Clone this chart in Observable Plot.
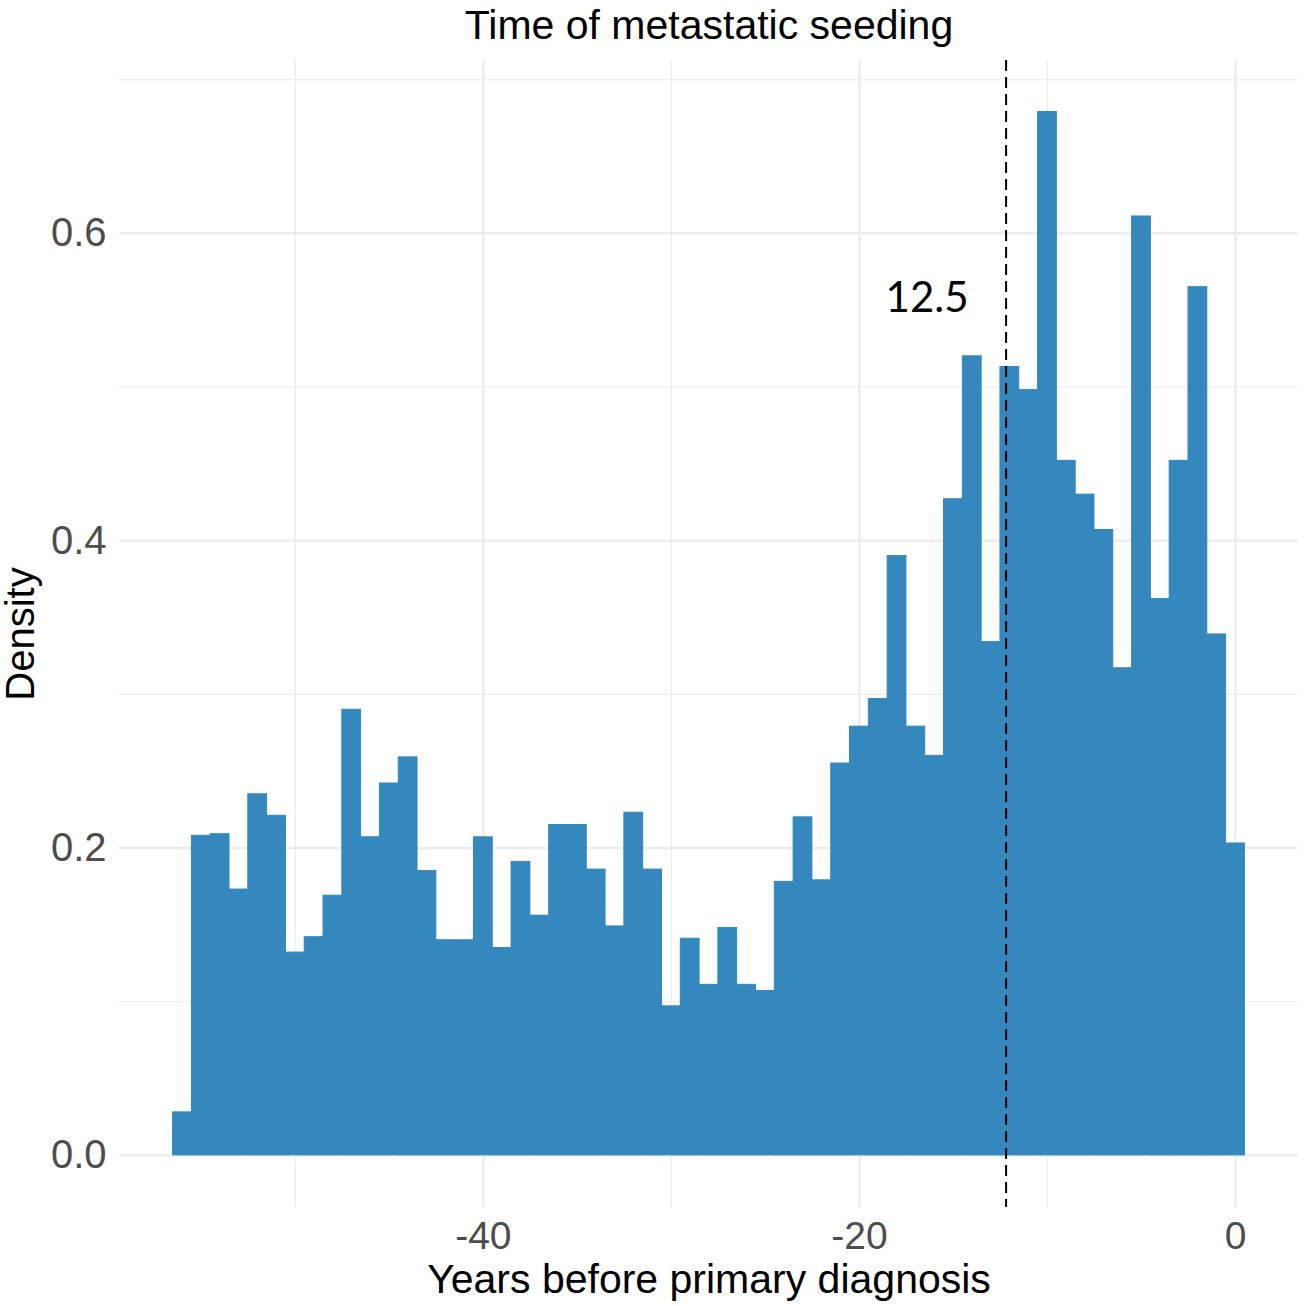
<!DOCTYPE html>
<html>
<head>
<meta charset="utf-8">
<script src="https://cdn.jsdelivr.net/npm/d3@7"></script>
<script src="https://cdn.jsdelivr.net/npm/@observablehq/plot@0.6"></script>
<style>
  html, body { margin: 0; padding: 0; background: #ffffff; }
  #chart svg { display: block; }
</style>
</head>
<body>
<div id="chart"></div>
<script>
// ---- data ----
const titleText = "Time of metastatic seeding";
const xTitle = "Years before primary diagnosis";
const yTitle = "Density";

// histogram bins: centre year of each 1-year bin
const binCenters = [
  -56, -55, -54, -53, -52, -51, -50, -49, -48, -47,
  -46, -45, -44, -43, -42, -41, -40, -39, -38, -37,
  -36, -35, -34, -33, -32, -31, -30, -29, -28, -27,
  -26, -25, -24, -23, -22, -21, -20, -19, -18, -17,
  -16, -15, -14, -13, -12, -11, -10, -9, -8, -7,
  -6, -5, -4, -3, -2, -1, 0
];
const density = [
  0.028, 0.208, 0.209, 0.173, 0.235, 0.221, 0.132, 0.142, 0.169, 0.290,
  0.207, 0.242, 0.259, 0.185, 0.140, 0.140, 0.207, 0.135, 0.191, 0.156,
  0.215, 0.215, 0.186, 0.149, 0.223, 0.186, 0.097, 0.141, 0.111, 0.148,
  0.111, 0.107, 0.178, 0.220, 0.179, 0.255, 0.279, 0.297, 0.390, 0.279,
  0.260, 0.427, 0.520, 0.334, 0.513, 0.498, 0.679, 0.452, 0.430, 0.407,
  0.317, 0.611, 0.362, 0.452, 0.565, 0.339, 0.203
];
const binWidth = 1;

const xMajorTicks = [-40, -20, 0];
const xMinorTicks = [-50, -30, -10];
const yMajorTicks = [0, 0.2, 0.4, 0.6];
const yMinorTicks = [0.1, 0.3, 0.5, 0.7];
const yTickLabels = ["0.0", "0.2", "0.4", "0.6"];

const medianLine = [-12.2];
const annotationText = ["12.5"];
const annotationX = [-16.4];
const annotationY = [0.5577];

const xDomain = [-59.35, 3.35];
const yDomain = [-0.0339, 0.7125];

// ---- build table ----
const bins = binCenters.map((c, i) => ({
  x1: c - binWidth / 2,
  x2: c + binWidth / 2,
  y: density[i]
}));

const barColor = "#3588bd";
const gridColor = "#ebebeb";
const tickColor = "#4d4d4d";

const chart = Plot.plot({
  width: 1307,
  height: 1306,
  marginLeft: 119,
  marginRight: 9,
  marginTop: 60,
  marginBottom: 99,
  x: { domain: xDomain, axis: null },
  y: { domain: yDomain, axis: null },
  style: {
    fontFamily: "'Liberation Sans', Arial, Helvetica, sans-serif",
    background: "#ffffff",
    overflow: "visible"
  },
  marks: [
    // grid
    Plot.ruleX(xMinorTicks, { x: d => d, stroke: gridColor, strokeWidth: 1.1 }),
    Plot.ruleY(yMinorTicks, { y: d => d, stroke: gridColor, strokeWidth: 1.1 }),
    Plot.ruleX(xMajorTicks, { x: d => d, stroke: gridColor, strokeWidth: 2.2 }),
    Plot.ruleY(yMajorTicks, { y: d => d, stroke: gridColor, strokeWidth: 2.2 }),
    // histogram bars
    Plot.rectY(bins, {
      x1: "x1", x2: "x2", y1: 0, y2: "y",
      fill: barColor, stroke: barColor, strokeWidth: 1, inset: 0
    }),
    // dashed reference line
    Plot.ruleX(medianLine, {
      x: d => d, stroke: "#000000", strokeWidth: 2, strokeDasharray: "11,6"
    }),
    // annotation
    Plot.text(annotationText, {
      x: (d, i) => annotationX[i], y: (d, i) => annotationY[i],
      text: d => d, fontSize: 42, fill: "#000000",
      fontFamily: "Lato, 'Open Sans', sans-serif", textAnchor: "middle"
    }),
    // x tick labels
    Plot.text(xMajorTicks, {
      x: d => d, frameAnchor: "bottom", dy: 29.5, lineAnchor: "middle",
      text: d => String(d), fontSize: 39, fill: tickColor
    }),
    // y tick labels
    Plot.text(yMajorTicks, {
      y: d => d, frameAnchor: "left", dx: -13, textAnchor: "end",
      text: (d, i) => yTickLabels[i], fontSize: 40, fill: tickColor
    }),
    // x title
    Plot.text([xTitle], {
      frameAnchor: "bottom", dy: 72, lineAnchor: "middle", textAnchor: "middle",
      text: d => d, fontSize: 41, fill: "#000000"
    }),
    // y title
    Plot.text([yTitle], {
      frameAnchor: "left", dx: -98, rotate: -90, lineAnchor: "middle", textAnchor: "middle",
      text: d => d, fontSize: 40, fill: "#000000"
    }),
    // title
    Plot.text([titleText], {
      frameAnchor: "top", dy: -34.5, lineAnchor: "middle", textAnchor: "middle",
      text: d => d, fontSize: 41, fill: "#000000"
    })
  ]
});

document.getElementById("chart").appendChild(chart);
</script>
</body>
</html>
